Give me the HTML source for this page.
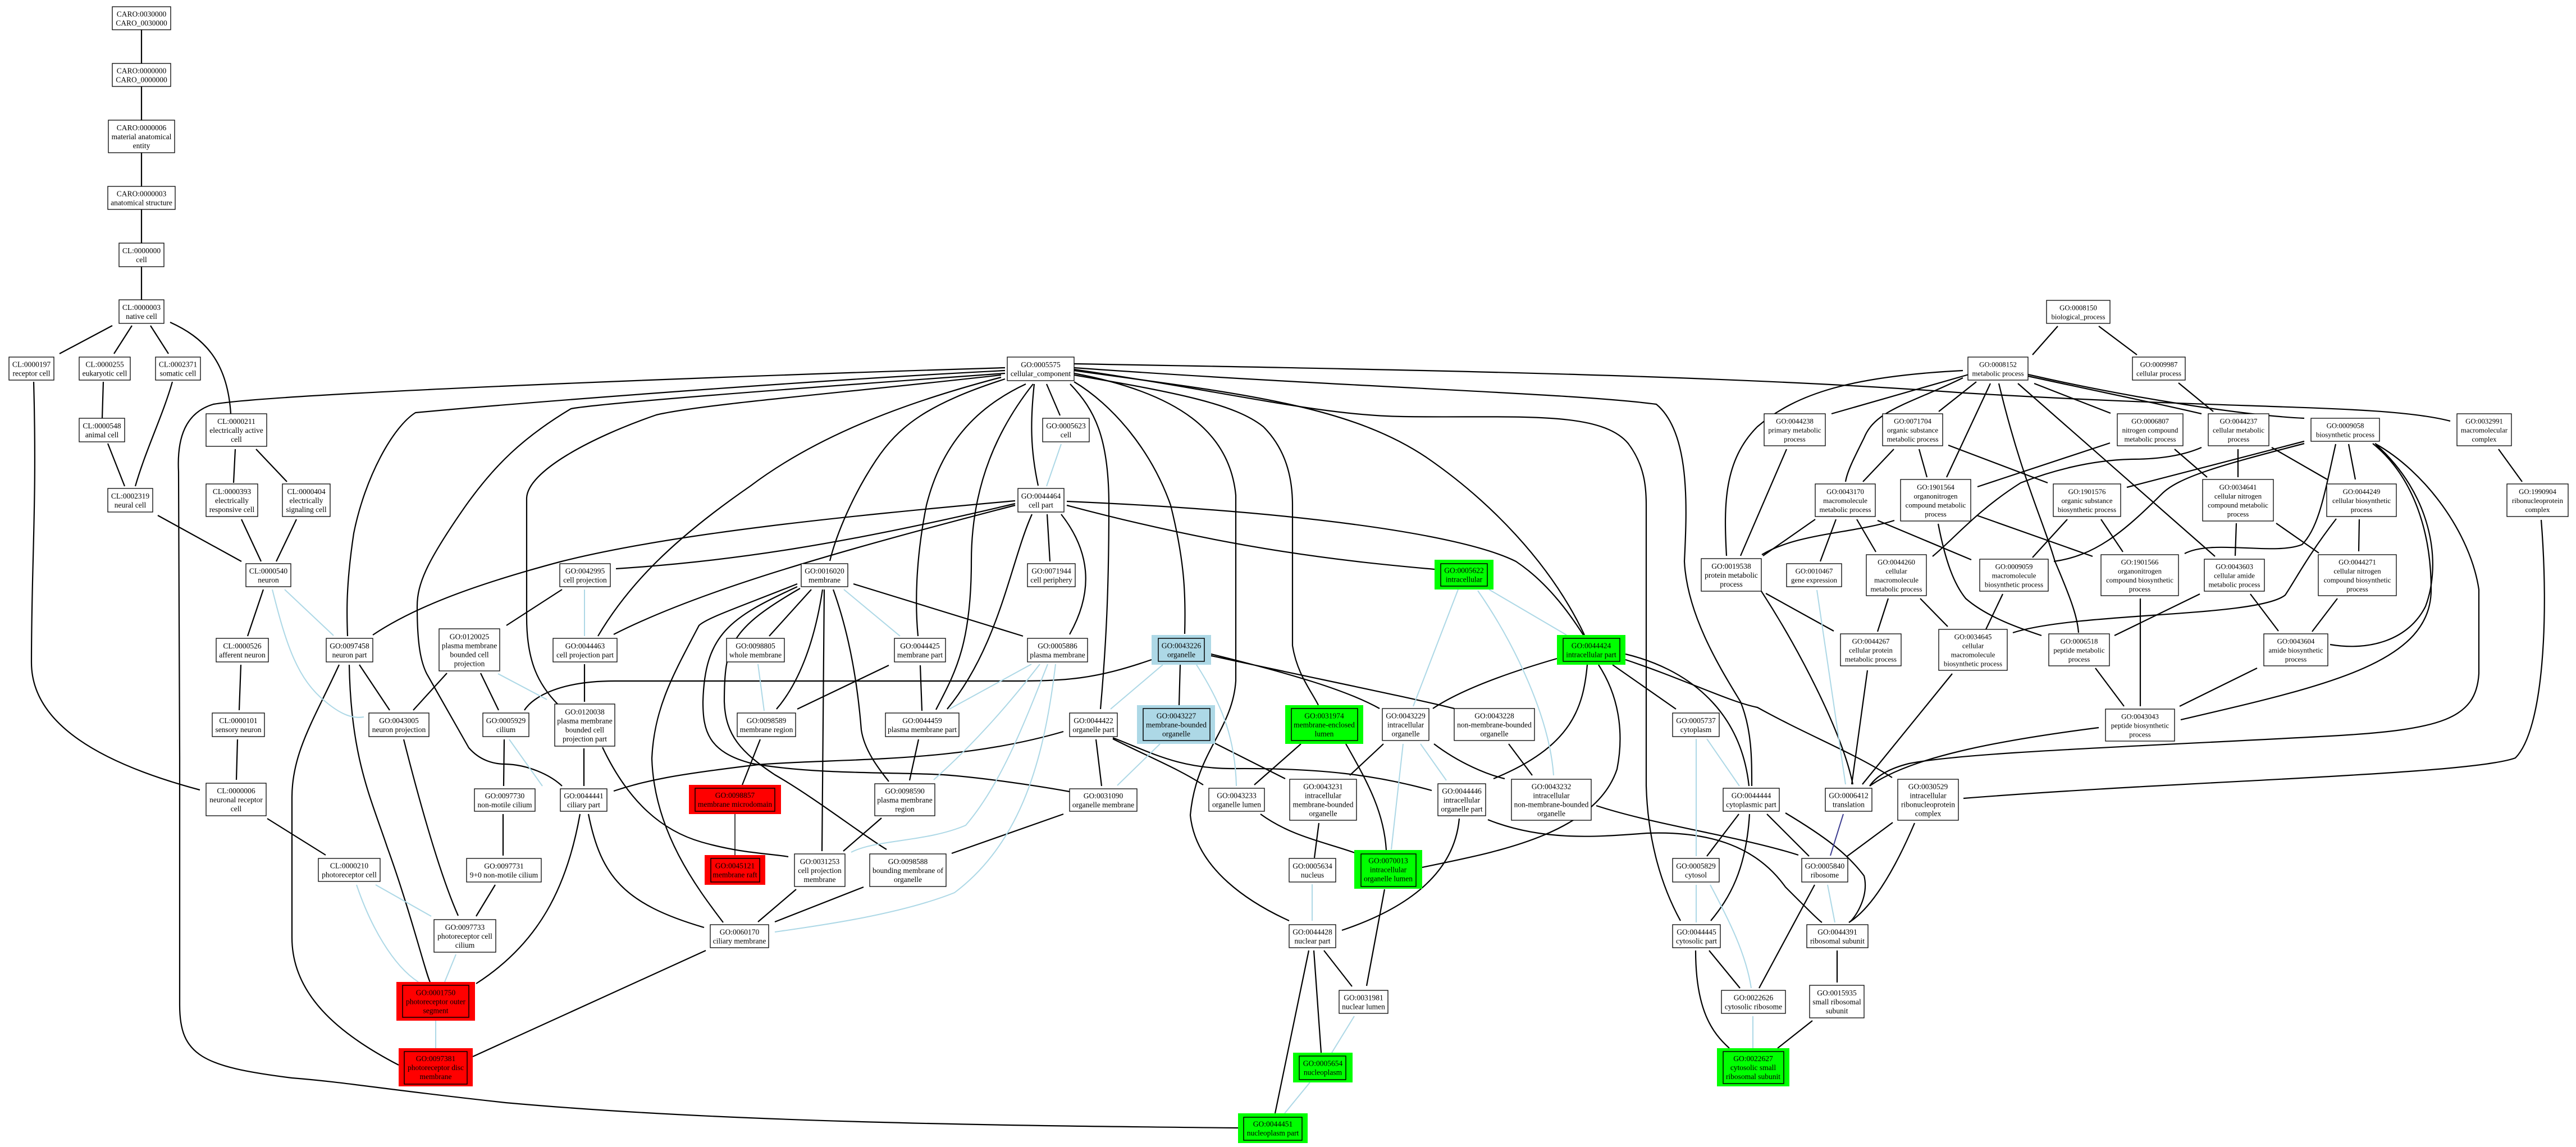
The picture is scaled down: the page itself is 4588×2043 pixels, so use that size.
<!DOCTYPE html>
<html><head><meta charset="utf-8"><style>
html,body{margin:0;padding:0;background:#fff}
svg{display:block}
text{font-family:"Liberation Serif",serif;font-size:13.5px;text-anchor:middle;fill:#000}
.m text{font-size:12.8px}
.e path{fill:none;stroke:#000;stroke-width:2.2}
.b path{fill:none;stroke:#add8e6;stroke-width:2}
rect.n{fill:#fff;stroke:#000;stroke-width:1.3}
rect.i{fill:none;stroke:#000;stroke-width:1.5}
</style></head><body>
<svg width="4588" height="2043" viewBox="0 0 4588 2043" xmlns="http://www.w3.org/2000/svg">
<rect width="4588" height="2043" fill="#fff"/>
<g class="e">
<path d="M252 53V113M252 154V214M252 272V332M252 373V433M252 475V534"/>
<path d="M200 580L106 630M235 580L203 630M268 580L300 630"/>
<path d="M303 574C360 600 405 640 411 737"/>
<path d="M60 680C66 900 56 1000 56 1180C56 1290 180 1360 356 1407"/>
<path d="M184 680L182 745M307 680C290 740 260 800 241 866M192 790L222 866"/>
<path d="M419 800L416 860M456 800L511 858M281 918L430 1000M430 925L465 1000M528 925L492 1000"/>
<path d="M469 1050L441 1133M429 1184L426 1265M423 1317L421 1389M476 1458L580 1523"/>
<path d="M640 1184L694 1265"/>
<path d="M622 1184C625 1350 660 1420 690 1510C730 1620 760 1740 766 1749"/>
<path d="M604 1184C560 1280 520 1340 520 1420L520 1670C520 1770 600 1840 710 1897"/>
<path d="M719 1317C740 1400 780 1550 816 1631"/>
<path d="M796 1199L736 1265M856 1199L888 1265M898 1317L897 1400M896 1450L896 1524M882 1576L848 1632"/>
<path d="M1033 1450C1010 1580 960 1680 848 1752"/>
<path d="M1048 1450C1070 1560 1110 1610 1254 1652"/>
<path d="M1257 1693L842 1882"/>
<path d="M1040 1333L1040 1400M1041 1183L1041 1250M1001 1050L902 1114"/>
<path d="M1073 1331C1120 1430 1180 1480 1250 1500C1320 1520 1370 1520 1404 1526"/>
<path d="M1790 655C1300 670 500 700 380 720C330 735 315 780 318 840L320 1350L320 1790C320 1880 360 1900 520 1920C620 1928 680 1940 900 1964C1300 2000 1800 2005 2205 2009"/>
<path d="M1790 660C1400 680 900 720 740 735C700 760 650 850 630 950C615 1050 618 1100 619 1133"/>
<path d="M1790 665C1300 700 1060 720 1017 728C930 780 880 830 830 900C760 1000 743 1040 743 1080C743 1150 750 1180 760 1200L835 1332C855 1355 880 1361 900 1361C940 1362 980 1380 1001 1400"/>
<path d="M1783 668C1500 700 1250 720 1169 739C1050 780 940 840 938 887L938 1100C938 1180 960 1220 993 1254"/>
<path d="M1783 672C1600 720 1450 780 1336 866C1200 960 1120 1040 1065 1133"/>
<path d="M1790 675C1650 720 1600 760 1560 820C1520 880 1490 950 1478 999"/>
<path d="M1827 684C1750 720 1680 780 1650 900C1630 1000 1630 1080 1635 1133"/>
<path d="M1840 684C1780 760 1730 860 1730 1000C1730 1150 1700 1200 1667 1264"/>
<path d="M1842 684C1835 750 1835 800 1849 865M1864 684L1888 740"/>
<path d="M1906 684C1950 730 1975 780 1975 900C1975 1050 1970 1150 1960 1263"/>
<path d="M1913 680C1980 720 2050 800 2085 900C2110 1000 2112 1060 2110 1129"/>
<path d="M1913 668C2100 700 2200 720 2250 760C2290 800 2302 850 2302 900L2302 1150C2310 1200 2335 1230 2348 1256"/>
<path d="M1913 665C2100 700 2190 770 2201 882L2201 1213C2195 1300 2130 1340 2120 1452C2130 1550 2230 1610 2296 1640"/>
<path d="M1913 660C2200 700 2400 720 2541 815C2650 890 2760 1000 2822 1131"/>
<path d="M1913 658C2200 700 2350 740 2500 742C2700 745 2850 730 2900 790C2930 830 2932 870 2932 900L2932 1400C2935 1500 2960 1580 2993 1640"/>
<path d="M1913 655C2400 690 2800 700 2950 720C3010 770 3005 900 3000 1000C3005 1100 3070 1200 3100 1250C3120 1300 3120 1350 3120 1400"/>
<path d="M1913 648C2600 660 3100 670 3500 700C4000 730 4250 720 4364 750"/>
<path d="M1865 916L1870 1000M1890 916C1940 980 1950 1050 1905 1130M1838 916C1800 1000 1780 1150 1687 1263"/>
<path d="M1808 892C1500 920 1200 950 1000 1000C850 1040 740 1080 664 1131"/>
<path d="M1808 897C1500 970 1300 1000 1097 1013"/>
<path d="M1808 900C1500 980 1250 1050 1093 1130"/>
<path d="M1900 893C2300 910 2600 950 2700 1000C2760 1040 2800 1100 2820 1131"/>
<path d="M1900 900C2200 980 2400 1000 2555 1014"/>
<path d="M1445 1050L1370 1133M1465 1050C1450 1150 1420 1220 1383 1263M1520 1040L1822 1133M1468 1050L1464 1516"/>
<path d="M1484 1050C1520 1150 1530 1250 1534 1300C1540 1340 1570 1375 1583 1392"/>
<path d="M1420 1040C1320 1080 1260 1100 1245 1114C1200 1200 1165 1260 1161 1351C1165 1480 1240 1580 1288 1643"/>
<path d="M1420 1045C1300 1100 1255 1130 1252 1250C1252 1300 1260 1340 1340 1360C1450 1380 1600 1375 1680 1380C1750 1385 1850 1400 1905 1410"/>
<path d="M1425 1048C1300 1120 1290 1150 1290 1250C1292 1310 1320 1340 1380 1380C1450 1420 1540 1490 1579 1513"/>
<path d="M1583 1185L1420 1263M1639 1185L1642 1266M1354 1317L1322 1398M1636 1317L1620 1390"/>
<path d="M1309 1450L1309 1523" style="stroke-width:1.5"/>
<path d="M1894 1303C1700 1360 1500 1350 1350 1362C1200 1380 1150 1390 1093 1409"/>
<path d="M1952 1317L1962 1400M1570 1457L1502 1516M1894 1450L1695 1520M1418 1584L1350 1642M1538 1580L1380 1642"/>
<path d="M1982 1316C2050 1350 2100 1370 2143 1398"/>
<path d="M1982 1314C2050 1340 2100 1370 2200 1369C2350 1368 2450 1380 2550 1408"/>
<path d="M2051 1175C1950 1210 1900 1213 1800 1213L1100 1213C1000 1212 950 1240 934 1265"/>
<path d="M2102 1184L2100 1256M2157 1165C2300 1200 2400 1230 2457 1262M2157 1168C2350 1210 2500 1240 2590 1262"/>
<path d="M2162 1323L2289 1387M2317 1325L2234 1398M2397 1325C2440 1400 2465 1450 2469 1514"/>
<path d="M2464 1325L2404 1381M2554 1325C2600 1360 2650 1380 2680 1387M2687 1325L2729 1381"/>
<path d="M2773 1173C2680 1200 2600 1230 2552 1262"/>
<path d="M2847 1184C2890 1250 2890 1320 2880 1370C2840 1490 2650 1520 2533 1545"/>
<path d="M2827 1184C2820 1260 2800 1330 2660 1387"/>
<path d="M2872 1184L2985 1263M2895 1165C3000 1190 3100 1260 3115 1400"/>
<path d="M2895 1175C3000 1210 3080 1250 3130 1260C3220 1310 3300 1340 3370 1385"/>
<path d="M2245 1450C2300 1490 2360 1500 2413 1519M2349 1466L2341 1528"/>
<path d="M2599 1458C2590 1560 2500 1620 2390 1657"/>
<path d="M2843 1435C2950 1470 3100 1490 3203 1523"/>
<path d="M2650 1460C2750 1500 2850 1490 2934 1484C3050 1480 3130 1510 3180 1580C3220 1620 3240 1640 3245 1643"/>
<path d="M2466 1584L2434 1756M2358 1693L2408 1757M2340 1693L2353 1875M2331 1693L2271 1983"/>
<path d="M3097 1450L3040 1525M3116 1450C3110 1550 3080 1600 3047 1640M3147 1450L3222 1525"/>
<path d="M3180 1448C3250 1490 3290 1520 3320 1560C3330 1600 3300 1640 3293 1643"/>
<path d="M3044 1693L3099 1760M3020 1693C3020 1800 3050 1840 3080 1867"/>
<path d="M3371 1465L3290 1525M3410 1466C3370 1560 3330 1620 3293 1643"/>
<path d="M3232 1576L3133 1760M3272 1693L3272 1750M3228 1818L3166 1867"/>
<path d="M3326 1194L3298 1397M3477 1200L3317 1397M3738 1296C3550 1320 3400 1350 3330 1400"/>
<path d="M3137 1053C3200 1150 3280 1300 3300 1397"/>
<path d="M4230 790C4320 840 4400 950 4415 1050L4415 1200C4410 1280 4350 1300 4150 1311C3800 1330 3500 1340 3400 1360C3360 1370 3340 1385 3330 1400"/>
<path d="M4526 926C4540 1100 4530 1300 4480 1350C4400 1380 3900 1390 3497 1422"/>
<path d="M4226 790C4300 850 4330 950 4330 1050C4330 1180 4150 1220 3884 1282"/>
<path d="M3665 581L3620 632M3738 581L3806 632M3880 682L3942 733M3510 666L3262 737M3520 680L3453 733M3545 683L3467 850"/>
<path d="M3560 683C3600 850 3640 930 3660 1000C3690 1070 3700 1100 3702 1127"/>
<path d="M3594 683L3945 991M3623 683L3759 736"/>
<path d="M3612 670C3750 700 3850 720 3921 737M3612 667C3800 710 4000 740 4104 745"/>
<path d="M3496 673C3400 720 3340 730 3320 780C3300 820 3290 840 3287 858"/>
<path d="M3496 660C3300 670 3200 700 3130 760C3070 820 3070 900 3075 990"/>
<path d="M3182 800L3100 990M3373 800L3318 858M3418 800L3432 850M3470 793L3647 860M3758 789L3522 867M3873 800L3931 850M3986 800V850"/>
<path d="M3921 797C3880 815 3830 818 3795 818C3720 820 3650 840 3599 860C3520 910 3480 960 3442 991"/>
<path d="M4046 797L4145 854M4104 786L3788 868M4183 791L4195 854"/>
<path d="M4104 790C3950 830 3880 850 3850 880C3780 950 3730 990 3658 1000"/>
<path d="M4160 791C4140 880 4130 940 4100 970C4050 990 3940 960 3891 986"/>
<path d="M4232 792C4330 880 4350 1000 4320 1080C4290 1140 4220 1160 4150 1148"/>
<path d="M3233 925L3140 990M3270 925L3242 1000M3307 925L3341 983M3344 927L3511 997"/>
<path d="M3374 927C3300 950 3200 950 3138 988"/>
<path d="M3452 933C3465 1000 3480 1040 3501 1066C3540 1100 3600 1120 3636 1132"/>
<path d="M3521 918L3727 991M3682 925L3620 993M3742 925L3781 983M3983 932L3981 990M4054 932L4130 985"/>
<path d="M4161 924C4110 990 4090 1030 4070 1060C4020 1100 3700 1090 3585 1127"/>
<path d="M4202 925L4201 982M3145 1057L3266 1124M3363 1066L3344 1125M3420 1066L3469 1116M3567 1058L3537 1121"/>
<path d="M3812 1066V1258M3918 1058L3766 1132M4008 1058L4058 1124M4163 1066L4118 1125M3732 1190L3783 1258M4020 1190L3882 1258M4450 800L4492 858"/>
<path d="M3283 1450L3260 1524" style="stroke:#3b3b8f;stroke-width:2"/>
</g>
<g class="b">
<path d="M507 1050L594 1132M485 1050C510 1150 530 1210 580 1250C610 1275 630 1280 648 1277"/>
<path d="M669 1576L768 1632M635 1576C660 1650 700 1720 745 1749M812 1700L792 1749M776 1818L776 1867"/>
<path d="M907 1317L966 1400M887 1200L974 1246"/>
<path d="M1890 791L1864 866M1041 1050L1041 1133M1503 1050L1603 1133M1350 1183L1361 1266M1837 1183L1691 1263"/>
<path d="M1852 1183C1800 1250 1740 1320 1663 1389"/>
<path d="M1866 1183C1820 1300 1780 1400 1720 1470C1650 1500 1560 1495 1516 1518"/>
<path d="M1880 1183C1860 1350 1820 1500 1700 1590C1600 1630 1450 1650 1380 1660"/>
<path d="M2131 1184C2180 1260 2200 1320 2202 1400M2071 1184L1978 1263M2066 1325L1990 1399"/>
<path d="M2530 1325L2576 1390M2499 1325L2478 1513"/>
<path d="M2597 1050L2517 1258M2652 1050L2790 1131M2632 1052C2700 1150 2760 1280 2767 1381"/>
<path d="M2337 1575L2337 1640M2412 1810L2372 1875M2333 1928L2288 1983"/>
<path d="M3021 1316L3021 1525M3040 1316L3098 1400M3021 1576L3021 1643M3046 1576C3080 1640 3110 1700 3119 1760"/>
<path d="M3255 1576L3268 1643M3122 1810L3122 1867M3236 1051L3287 1397"/>
</g>
<g>
<rect class="n" x="200" y="12" width="104" height="41"/><text x="252" y="29.5">CARO:0030000<tspan x="252" dy="16">CARO_0030000</tspan></text>
<rect class="n" x="200" y="113" width="104" height="41"/><text x="252" y="130.5">CARO:0000000<tspan x="252" dy="16">CARO_0000000</tspan></text>
<rect class="n" x="193" y="214" width="118" height="58"/><text x="252" y="232">CARO:0000006<tspan x="252" dy="16">material anatomical</tspan><tspan x="252" dy="16">entity</tspan></text>
<rect class="n" x="192" y="332" width="120" height="41"/><text x="252" y="349.5">CARO:0000003<tspan x="252" dy="16">anatomical structure</tspan></text>
<rect class="n" x="212" y="433" width="80" height="42"/><text x="252" y="451">CL:0000000<tspan x="252" dy="16">cell</tspan></text>
<rect class="n" x="212" y="534" width="80" height="42"/><text x="252" y="552">CL:0000003<tspan x="252" dy="16">native cell</tspan></text>
<rect class="n" x="16" y="636" width="80" height="41"/><text x="56" y="653.5">CL:0000197<tspan x="56" dy="16">receptor cell</tspan></text>
<rect class="n" x="141" y="636" width="91" height="41"/><text x="186.5" y="653.5">CL:0000255<tspan x="186.5" dy="16">eukaryotic cell</tspan></text>
<rect class="n" x="277" y="636" width="80" height="41"/><text x="317" y="653.5">CL:0002371<tspan x="317" dy="16">somatic cell</tspan></text>
<rect class="n" x="141" y="745" width="81" height="42"/><text x="181.5" y="763">CL:0000548<tspan x="181.5" dy="16">animal cell</tspan></text>
<rect class="n" x="367" y="737" width="108" height="58"/><text x="421" y="755">CL:0000211<tspan x="421" dy="16">electrically active</tspan><tspan x="421" dy="16">cell</tspan></text>
<rect class="n" x="192" y="870" width="80" height="42"/><text x="232" y="888">CL:0002319<tspan x="232" dy="16">neural cell</tspan></text>
<rect class="n" x="367" y="862" width="92" height="58"/><text x="413" y="880">CL:0000393<tspan x="413" dy="16">electrically</tspan><tspan x="413" dy="16">responsive cell</tspan></text>
<rect class="n" x="503" y="862" width="85" height="58"/><text x="545.5" y="880">CL:0000404<tspan x="545.5" dy="16">electrically</tspan><tspan x="545.5" dy="16">signaling cell</tspan></text>
<rect class="n" x="438" y="1004" width="80" height="41"/><text x="478" y="1021.5">CL:0000540<tspan x="478" dy="16">neuron</tspan></text>
<rect class="n" x="385" y="1137" width="93" height="42"/><text x="431.5" y="1155">CL:0000526<tspan x="431.5" dy="16">afferent neuron</tspan></text>
<rect class="n" x="581" y="1137" width="83" height="42"/><text x="622.5" y="1155">GO:0097458<tspan x="622.5" dy="16">neuron part</tspan></text>
<rect class="n" x="782" y="1120" width="108" height="75"/><text x="836" y="1138.5">GO:0120025<tspan x="836" dy="16">plasma membrane</tspan><tspan x="836" dy="16">bounded cell</tspan><tspan x="836" dy="16">projection</tspan></text>
<rect class="n" x="378" y="1270" width="93" height="42"/><text x="424.5" y="1288">CL:0000101<tspan x="424.5" dy="16">sensory neuron</tspan></text>
<rect class="n" x="657" y="1270" width="107" height="42"/><text x="710.5" y="1288">GO:0043005<tspan x="710.5" dy="16">neuron projection</tspan></text>
<rect class="n" x="367" y="1395" width="107" height="58"/><text x="420.5" y="1413">CL:0000006<tspan x="420.5" dy="16">neuronal receptor</tspan><tspan x="420.5" dy="16">cell</tspan></text>
<rect class="n" x="567" y="1529" width="110" height="41"/><text x="622" y="1546.5">CL:0000210<tspan x="622" dy="16">photoreceptor cell</tspan></text>
<rect class="n" x="773" y="1638" width="110" height="58"/><text x="828" y="1656">GO:0097733<tspan x="828" dy="16">photoreceptor cell</tspan><tspan x="828" dy="16">cilium</tspan></text>
<rect x="706" y="1749" width="140" height="69" fill="#ff0000"/><rect class="i" x="717" y="1755" width="118" height="57"/><text x="776" y="1772.5">GO:0001750<tspan x="776" dy="16">photoreceptor outer</tspan><tspan x="776" dy="16">segment</tspan></text>
<rect x="710" y="1867" width="132" height="68" fill="#ff0000"/><rect class="i" x="720" y="1873" width="112" height="58"/><text x="776" y="1890">GO:0097381<tspan x="776" dy="16">photoreceptor disc</tspan><tspan x="776" dy="16">membrane</tspan></text>
<rect class="n" x="860" y="1270" width="82" height="42"/><text x="901" y="1288">GO:0005929<tspan x="901" dy="16">cilium</tspan></text>
<rect class="n" x="988" y="1254" width="107" height="75"/><text x="1041.5" y="1272.5">GO:0120038<tspan x="1041.5" dy="16">plasma membrane</tspan><tspan x="1041.5" dy="16">bounded cell</tspan><tspan x="1041.5" dy="16">projection part</tspan></text>
<rect class="n" x="845" y="1405" width="108" height="40"/><text x="899" y="1422">GO:0097730<tspan x="899" dy="16">non-motile cilium</tspan></text>
<rect class="n" x="831" y="1529" width="133" height="42"/><text x="897.5" y="1547">GO:0097731<tspan x="897.5" dy="16">9+0 non-motile cilium</tspan></text>
<rect class="n" x="998" y="1405" width="83" height="40"/><text x="1039.5" y="1422">GO:0044441<tspan x="1039.5" dy="16">ciliary part</tspan></text>
<rect class="n" x="1794" y="636" width="119" height="42"/><text x="1853.5" y="654">GO:0005575<tspan x="1853.5" dy="16">cellular_component</tspan></text>
<rect class="n" x="1857" y="745" width="83" height="42"/><text x="1898.5" y="763">GO:0005623<tspan x="1898.5" dy="16">cell</tspan></text>
<rect class="n" x="1813" y="870" width="82" height="42"/><text x="1854" y="888">GO:0044464<tspan x="1854" dy="16">cell part</tspan></text>
<rect class="n" x="997" y="1004" width="90" height="41"/><text x="1042" y="1021.5">GO:0042995<tspan x="1042" dy="16">cell projection</tspan></text>
<rect class="n" x="1427" y="1004" width="83" height="41"/><text x="1468.5" y="1021.5">GO:0016020<tspan x="1468.5" dy="16">membrane</tspan></text>
<rect class="n" x="1830" y="1004" width="85" height="41"/><text x="1872.5" y="1021.5">GO:0071944<tspan x="1872.5" dy="16">cell periphery</tspan></text>
<rect class="n" x="985" y="1137" width="114" height="42"/><text x="1042" y="1155">GO:0044463<tspan x="1042" dy="16">cell projection part</tspan></text>
<rect class="n" x="1294" y="1137" width="103" height="42"/><text x="1345.5" y="1155">GO:0098805<tspan x="1345.5" dy="16">whole membrane</tspan></text>
<rect class="n" x="1593" y="1137" width="91" height="42"/><text x="1638.5" y="1155">GO:0044425<tspan x="1638.5" dy="16">membrane part</tspan></text>
<rect class="n" x="1830" y="1137" width="107" height="42"/><text x="1883.5" y="1155">GO:0005886<tspan x="1883.5" dy="16">plasma membrane</tspan></text>
<rect class="n" x="1313" y="1270" width="104" height="42"/><text x="1365" y="1288">GO:0098589<tspan x="1365" dy="16">membrane region</tspan></text>
<rect class="n" x="1577" y="1270" width="131" height="42"/><text x="1642.5" y="1288">GO:0044459<tspan x="1642.5" dy="16">plasma membrane part</tspan></text>
<rect class="n" x="1905" y="1270" width="85" height="42"/><text x="1947.5" y="1288">GO:0044422<tspan x="1947.5" dy="16">organelle part</tspan></text>
<rect x="1227" y="1398" width="164" height="52" fill="#ff0000"/><rect class="i" x="1238" y="1404" width="142" height="41"/><text x="1309" y="1421">GO:0098857<tspan x="1309" dy="16">membrane microdomain</tspan></text>
<rect x="1255" y="1523" width="108" height="53" fill="#ff0000"/><rect class="i" x="1266" y="1529" width="87" height="42"/><text x="1309" y="1546.5">GO:0045121<tspan x="1309" dy="16">membrane raft</tspan></text>
<rect class="n" x="1558" y="1396" width="107" height="57"/><text x="1611.5" y="1413.5">GO:0098590<tspan x="1611.5" dy="16">plasma membrane</tspan><tspan x="1611.5" dy="16">region</tspan></text>
<rect class="n" x="1905" y="1405" width="120" height="40"/><text x="1965" y="1422">GO:0031090<tspan x="1965" dy="16">organelle membrane</tspan></text>
<rect class="n" x="1415" y="1521" width="90" height="58"/><text x="1460" y="1539">GO:0031253<tspan x="1460" dy="16">cell projection</tspan><tspan x="1460" dy="16">membrane</tspan></text>
<rect class="n" x="1549" y="1521" width="136" height="58"/><text x="1617" y="1539">GO:0098588<tspan x="1617" dy="16">bounding membrane of</tspan><tspan x="1617" dy="16">organelle</tspan></text>
<rect class="n" x="1265" y="1647" width="104" height="41"/><text x="1317" y="1664.5">GO:0060170<tspan x="1317" dy="16">ciliary membrane</tspan></text>
<rect x="2051" y="1131" width="106" height="53" fill="#add8e6"/><rect class="i" x="2063" y="1137" width="82" height="41"/><text x="2104" y="1154.5">GO:0043226<tspan x="2104" dy="16">organelle</tspan></text>
<rect x="2025" y="1256" width="139" height="69" fill="#add8e6"/><rect class="i" x="2036" y="1262" width="119" height="57"/><text x="2095" y="1279.5">GO:0043227<tspan x="2095" dy="16">membrane-bounded</tspan><tspan x="2095" dy="16">organelle</tspan></text>
<rect x="2289" y="1256" width="139" height="69" fill="#00ff00"/><rect class="i" x="2300" y="1262" width="118" height="57"/><text x="2358.5" y="1279.5">GO:0031974<tspan x="2358.5" dy="16">membrane-enclosed</tspan><tspan x="2358.5" dy="16">lumen</tspan></text>
<rect class="n" x="2462" y="1262" width="83" height="57"/><text x="2503.5" y="1279.5">GO:0043229<tspan x="2503.5" dy="16">intracellular</tspan><tspan x="2503.5" dy="16">organelle</tspan></text>
<rect class="n" x="2590" y="1262" width="143" height="57"/><text x="2661.5" y="1279.5">GO:0043228<tspan x="2661.5" dy="16">non-membrane-bounded</tspan><tspan x="2661.5" dy="16">organelle</tspan></text>
<rect class="n" x="2979" y="1270" width="83" height="42"/><text x="3020.5" y="1288">GO:0005737<tspan x="3020.5" dy="16">cytoplasm</tspan></text>
<rect x="2555" y="997" width="105" height="53" fill="#00ff00"/><rect class="i" x="2566" y="1004" width="83" height="40"/><text x="2607.5" y="1020.5">GO:0005622<tspan x="2607.5" dy="16">intracellular</tspan></text>
<rect x="2773" y="1131" width="122" height="53" fill="#00ff00"/><rect class="i" x="2784" y="1137" width="101" height="41"/><text x="2834" y="1154.5">GO:0044424<tspan x="2834" dy="16">intracellular part</tspan></text>
<rect class="n" x="3030" y="995" width="107" height="58"/><text x="3083.5" y="1013">GO:0019538<tspan x="3083.5" dy="16">protein metabolic</tspan><tspan x="3083.5" dy="16">process</tspan></text>
<rect class="n" x="2153" y="1404" width="99" height="41"/><text x="2202.5" y="1421.5">GO:0043233<tspan x="2202.5" dy="16">organelle lumen</tspan></text>
<rect class="n" x="2297" y="1388" width="119" height="73"/><text x="2356.5" y="1405.5">GO:0043231<tspan x="2356.5" dy="16">intracellular</tspan><tspan x="2356.5" dy="16">membrane-bounded</tspan><tspan x="2356.5" dy="16">organelle</tspan></text>
<rect class="n" x="2561" y="1396" width="85" height="57"/><text x="2603.5" y="1413.5">GO:0044446<tspan x="2603.5" dy="16">intracellular</tspan><tspan x="2603.5" dy="16">organelle part</tspan></text>
<rect class="n" x="2692" y="1388" width="142" height="73"/><text x="2763" y="1405.5">GO:0043232<tspan x="2763" dy="16">intracellular</tspan><tspan x="2763" dy="16">non-membrane-bounded</tspan><tspan x="2763" dy="16">organelle</tspan></text>
<rect class="n" x="2296" y="1529" width="83" height="42"/><text x="2337.5" y="1547">GO:0005634<tspan x="2337.5" dy="16">nucleus</tspan></text>
<rect x="2412" y="1514" width="121" height="69" fill="#00ff00"/><rect class="i" x="2424" y="1521" width="98" height="58"/><text x="2472.5" y="1537.5">GO:0070013<tspan x="2472.5" dy="16">intracellular</tspan><tspan x="2472.5" dy="16">organelle lumen</tspan></text>
<rect class="n" x="2296" y="1647" width="83" height="41"/><text x="2337.5" y="1664.5">GO:0044428<tspan x="2337.5" dy="16">nuclear part</tspan></text>
<rect class="n" x="2385" y="1764" width="87" height="41"/><text x="2428.5" y="1781.5">GO:0031981<tspan x="2428.5" dy="16">nuclear lumen</tspan></text>
<rect x="2303" y="1875" width="106" height="53" fill="#00ff00"/><rect class="i" x="2314" y="1881" width="83" height="42"/><text x="2356" y="1898.5">GO:0005654<tspan x="2356" dy="16">nucleoplasm</tspan></text>
<rect x="2205" y="1983" width="124" height="53" fill="#00ff00"/><rect class="i" x="2215" y="1990" width="104" height="41"/><text x="2267" y="2006.5">GO:0044451<tspan x="2267" dy="16">nucleoplasm part</tspan></text>
<rect class="n" x="2979" y="1529" width="83" height="42"/><text x="3020.5" y="1547">GO:0005829<tspan x="3020.5" dy="16">cytosol</tspan></text>
<rect class="n" x="2979" y="1647" width="85" height="41"/><text x="3021.5" y="1664.5">GO:0044445<tspan x="3021.5" dy="16">cytosolic part</tspan></text>
<rect class="n" x="3069" y="1404" width="100" height="41"/><text x="3119" y="1421.5">GO:0044444<tspan x="3119" dy="16">cytoplasmic part</tspan></text>
<rect class="n" x="3251" y="1404" width="83" height="41"/><text x="3292.5" y="1421.5">GO:0006412<tspan x="3292.5" dy="16">translation</tspan></text>
<rect class="n" x="3380" y="1388" width="108" height="73"/><text x="3434" y="1405.5">GO:0030529<tspan x="3434" dy="16">intracellular</tspan><tspan x="3434" dy="16">ribonucleoprotein</tspan><tspan x="3434" dy="16">complex</tspan></text>
<rect class="n" x="3209" y="1529" width="82" height="42"/><text x="3250" y="1547">GO:0005840<tspan x="3250" dy="16">ribosome</tspan></text>
<rect class="n" x="3218" y="1647" width="109" height="41"/><text x="3272.5" y="1664.5">GO:0044391<tspan x="3272.5" dy="16">ribosomal subunit</tspan></text>
<rect class="n" x="3066" y="1764" width="114" height="41"/><text x="3123" y="1781.5">GO:0022626<tspan x="3123" dy="16">cytosolic ribosome</tspan></text>
<rect class="n" x="3223" y="1755" width="97" height="58"/><text x="3271.5" y="1773">GO:0015935<tspan x="3271.5" dy="16">small ribosomal</tspan><tspan x="3271.5" dy="16">subunit</tspan></text>
<rect x="3058" y="1867" width="129" height="68" fill="#00ff00"/><rect class="i" x="3069" y="1873" width="108" height="57"/><text x="3122.5" y="1890">GO:0022627<tspan x="3122.5" dy="16">cytosolic small</tspan><tspan x="3122.5" dy="16">ribosomal subunit</tspan></text>
</g>
<g class="m">
<rect class="n" x="3750" y="1263" width="123" height="57"/><text x="3811.5" y="1280.5">GO:0043043<tspan x="3811.5" dy="16">peptide biosynthetic</tspan><tspan x="3811.5" dy="16">process</tspan></text>
<rect class="n" x="3645" y="535" width="113" height="41"/><text x="3701.5" y="552.5">GO:0008150<tspan x="3701.5" dy="16">biological_process</tspan></text>
<rect class="n" x="3505" y="636" width="107" height="41"/><text x="3558.5" y="653.5">GO:0008152<tspan x="3558.5" dy="16">metabolic process</tspan></text>
<rect class="n" x="3798" y="636" width="94" height="41"/><text x="3845" y="653.5">GO:0009987<tspan x="3845" dy="16">cellular process</tspan></text>
<rect class="n" x="3142" y="737" width="109" height="57"/><text x="3196.5" y="754.5">GO:0044238<tspan x="3196.5" dy="16">primary metabolic</tspan><tspan x="3196.5" dy="16">process</tspan></text>
<rect class="n" x="3353" y="737" width="107" height="57"/><text x="3406.5" y="754.5">GO:0071704<tspan x="3406.5" dy="16">organic substance</tspan><tspan x="3406.5" dy="16">metabolic process</tspan></text>
<rect class="n" x="3771" y="737" width="117" height="57"/><text x="3829.5" y="754.5">GO:0006807<tspan x="3829.5" dy="16">nitrogen compound</tspan><tspan x="3829.5" dy="16">metabolic process</tspan></text>
<rect class="n" x="3933" y="737" width="108" height="57"/><text x="3987" y="754.5">GO:0044237<tspan x="3987" dy="16">cellular metabolic</tspan><tspan x="3987" dy="16">process</tspan></text>
<rect class="n" x="4116" y="745" width="122" height="41"/><text x="4177" y="762.5">GO:0009058<tspan x="4177" dy="16">biosynthetic process</tspan></text>
<rect class="n" x="4376" y="737" width="97" height="57"/><text x="4424.5" y="754.5">GO:0032991<tspan x="4424.5" dy="16">macromolecular</tspan><tspan x="4424.5" dy="16">complex</tspan></text>
<rect class="n" x="3233" y="862" width="107" height="58"/><text x="3286.5" y="880">GO:0043170<tspan x="3286.5" dy="16">macromolecule</tspan><tspan x="3286.5" dy="16">metabolic process</tspan></text>
<rect class="n" x="3385" y="854" width="125" height="74"/><text x="3447.5" y="872">GO:1901564<tspan x="3447.5" dy="16">organonitrogen</tspan><tspan x="3447.5" dy="16">compound metabolic</tspan><tspan x="3447.5" dy="16">process</tspan></text>
<rect class="n" x="3657" y="862" width="120" height="58"/><text x="3717" y="880">GO:1901576<tspan x="3717" dy="16">organic substance</tspan><tspan x="3717" dy="16">biosynthetic process</tspan></text>
<rect class="n" x="3923" y="854" width="126" height="74"/><text x="3986" y="872">GO:0034641<tspan x="3986" dy="16">cellular nitrogen</tspan><tspan x="3986" dy="16">compound metabolic</tspan><tspan x="3986" dy="16">process</tspan></text>
<rect class="n" x="4144" y="862" width="124" height="58"/><text x="4206" y="880">GO:0044249<tspan x="4206" dy="16">cellular biosynthetic</tspan><tspan x="4206" dy="16">process</tspan></text>
<rect class="n" x="4465" y="862" width="109" height="58"/><text x="4519.5" y="880">GO:1990904<tspan x="4519.5" dy="16">ribonucleoprotein</tspan><tspan x="4519.5" dy="16">complex</tspan></text>
<rect class="n" x="3182" y="1004" width="98" height="41"/><text x="3231" y="1021.5">GO:0010467<tspan x="3231" dy="16">gene expression</tspan></text>
<rect class="n" x="3324" y="988" width="107" height="73"/><text x="3377.5" y="1005.5">GO:0044260<tspan x="3377.5" dy="16">cellular</tspan><tspan x="3377.5" dy="16">macromolecule</tspan><tspan x="3377.5" dy="16">metabolic process</tspan></text>
<rect class="n" x="3526" y="996" width="122" height="57"/><text x="3587" y="1013.5">GO:0009059<tspan x="3587" dy="16">macromolecule</tspan><tspan x="3587" dy="16">biosynthetic process</tspan></text>
<rect class="n" x="3742" y="988" width="138" height="73"/><text x="3811" y="1005.5">GO:1901566<tspan x="3811" dy="16">organonitrogen</tspan><tspan x="3811" dy="16">compound biosynthetic</tspan><tspan x="3811" dy="16">process</tspan></text>
<rect class="n" x="3926" y="996" width="107" height="57"/><text x="3979.5" y="1013.5">GO:0043603<tspan x="3979.5" dy="16">cellular amide</tspan><tspan x="3979.5" dy="16">metabolic process</tspan></text>
<rect class="n" x="4129" y="988" width="139" height="73"/><text x="4198.5" y="1005.5">GO:0044271<tspan x="4198.5" dy="16">cellular nitrogen</tspan><tspan x="4198.5" dy="16">compound biosynthetic</tspan><tspan x="4198.5" dy="16">process</tspan></text>
<rect class="n" x="3278" y="1129" width="108" height="57"/><text x="3332" y="1146.5">GO:0044267<tspan x="3332" dy="16">cellular protein</tspan><tspan x="3332" dy="16">metabolic process</tspan></text>
<rect class="n" x="3453" y="1121" width="122" height="73"/><text x="3514" y="1138.5">GO:0034645<tspan x="3514" dy="16">cellular</tspan><tspan x="3514" dy="16">macromolecule</tspan><tspan x="3514" dy="16">biosynthetic process</tspan></text>
<rect class="n" x="3649" y="1129" width="108" height="57"/><text x="3703" y="1146.5">GO:0006518<tspan x="3703" dy="16">peptide metabolic</tspan><tspan x="3703" dy="16">process</tspan></text>
<rect class="n" x="4032" y="1129" width="114" height="57"/><text x="4089" y="1146.5">GO:0043604<tspan x="4089" dy="16">amide biosynthetic</tspan><tspan x="4089" dy="16">process</tspan></text>
</g>
</svg>
</body></html>
